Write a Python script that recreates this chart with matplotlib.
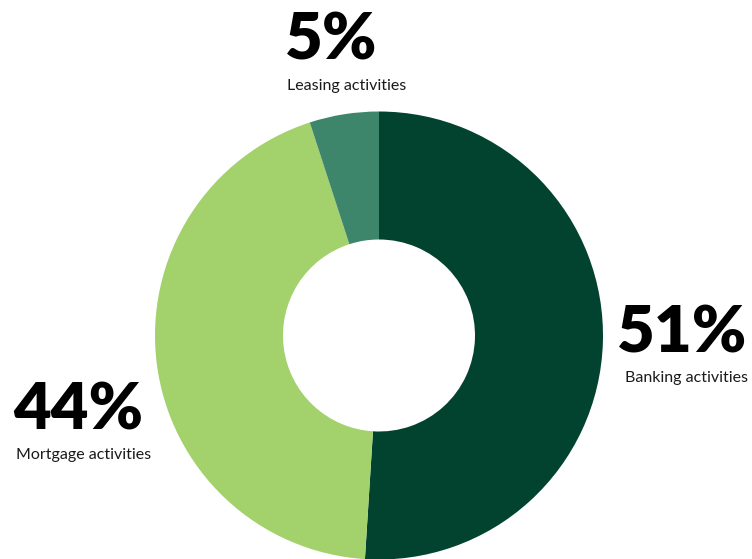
import matplotlib.pyplot as plt

# Revenue split by business line
labels = ["Banking activities", "Mortgage activities", "Leasing activities"]
shares = [51, 44, 5]
colors = ["#02432f", "#a3d16b", "#3e866b"]

fig = plt.figure(figsize=(7.52, 5.59), dpi=100)
ax = fig.add_axes([0, 0, 1, 1])

ax.pie(shares, colors=colors, startangle=90, counterclock=False,
       center=(379, 223.5), radius=224, frame=True,
       wedgeprops=dict(width=128, linewidth=0))
ax.set_xlim(0, 752)
ax.set_ylim(0, 559)
ax.set_aspect("equal")
ax.axis("off")

big = dict(family="Lato", weight="heavy", fontsize=47, color="black")
small = dict(family="Lato", fontsize=11.5, color="#1a1a1a")

# Leasing (top, centred)
ax.text(331, 518, f"{shares[2]}%", ha="center", va="center", **big)
ax.text(347, 473, labels[2], ha="center", va="center", **small)

# Banking (right)
ax.text(617, 225, f"{shares[0]}%", ha="left", va="center", **big)
ax.text(625, 181, labels[0], ha="left", va="center", **small)

# Mortgage (left)
ax.text(13, 148, f"{shares[1]}%", ha="left", va="center", **big)
ax.text(16, 104, labels[1], ha="left", va="center", **small)

fig.savefig("out.png", dpi=100)
